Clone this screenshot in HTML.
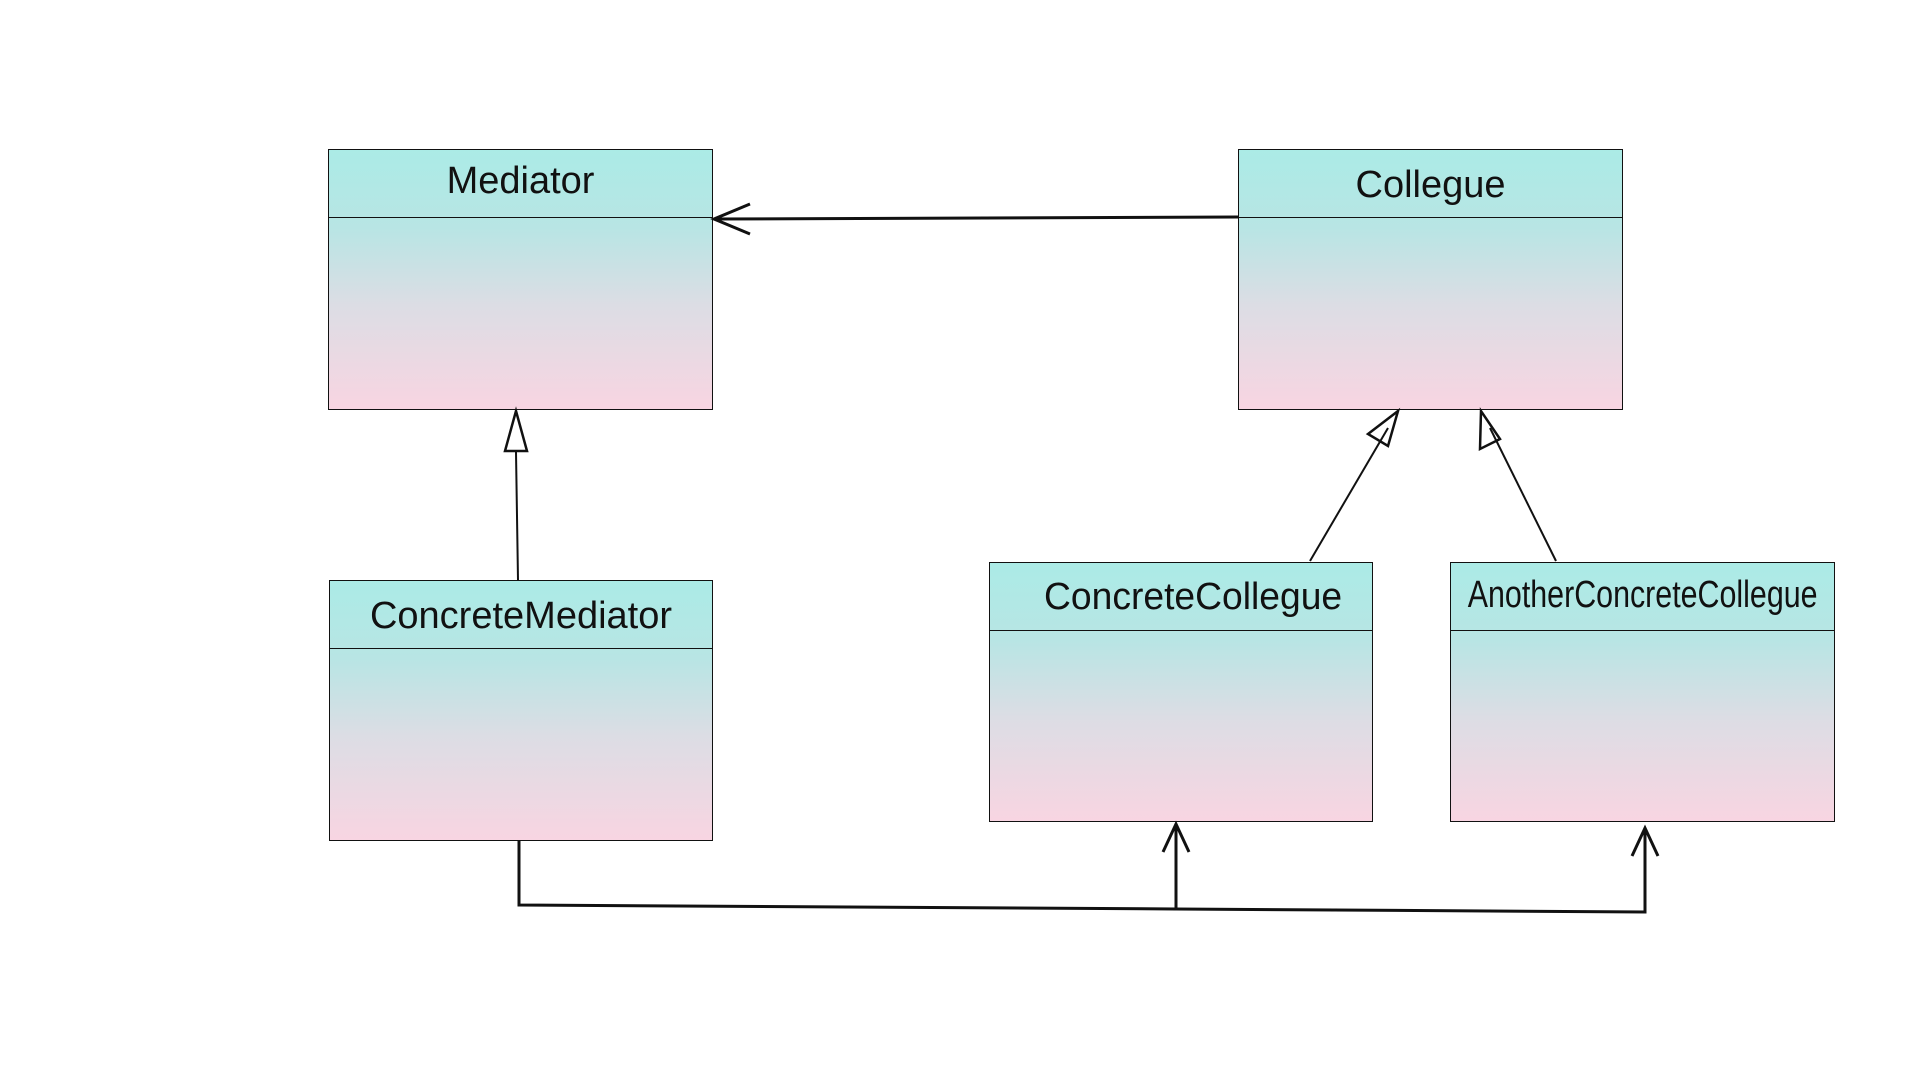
<!DOCTYPE html>
<html><head><meta charset="utf-8"><style>
html,body{margin:0;padding:0;background:#fff;}
body{width:1920px;height:1080px;position:relative;overflow:hidden;font-family:"Liberation Sans",sans-serif;}
.box{position:absolute;box-sizing:border-box;border:1.5px solid #111;background:linear-gradient(#abebe6 0%,#b8e5e4 30%,#dcdde4 60%,#f8d5e2 100%);}
.hd{position:absolute;left:0;right:0;top:0;border-bottom:1.5px solid #111;text-align:center;font-size:38px;color:#111;white-space:nowrap;}
.hd span{display:inline-block;}
svg{position:absolute;left:0;top:0;}
</style></head><body>
<div class="box" style="left:328px;top:149px;width:385px;height:261px;"><div class="hd" style="height:67px;line-height:62px;"><span>Mediator</span></div></div>
<div class="box" style="left:329px;top:580px;width:384px;height:261px;"><div class="hd" style="height:67px;line-height:70px;"><span>ConcreteMediator</span></div></div>
<div class="box" style="left:1238px;top:149px;width:385px;height:261px;"><div class="hd" style="height:67px;line-height:70px;"><span>Collegue</span></div></div>
<div class="box" style="left:989px;top:562px;width:384px;height:260px;"><div class="hd" style="height:67px;line-height:68px;"><span style="transform:scaleX(0.98);margin-left:24px">ConcreteCollegue</span></div></div>
<div class="box" style="left:1450px;top:562px;width:385px;height:260px;"><div class="hd" style="height:67px;line-height:64px;"><span style="transform:scaleX(0.8);margin-left:-60px;margin-right:-60px">AnotherConcreteCollegue</span></div></div>
<svg width="1920" height="1080" fill="none" stroke="#111" stroke-width="3">
<path d="M1238 217 L714 219"/><path d="M750 204 L714 219 L750 234"/>
<path d="M518 580 L516 452" stroke-width="2"/><path d="M516 411 L505 451 L527 451 Z" stroke-width="2.5"/>
<path d="M1310 561 L1388 428" stroke-width="2"/><path d="M1398 411 L1368 434 L1388 446 Z" stroke-width="2.5"/>
<path d="M1556 561 L1490 428" stroke-width="2"/><path d="M1481 411 L1480 449 L1500 439 Z" stroke-width="2.5"/>
<path d="M519 841 L519 905 L1176 909 L1645 912 L1645 828"/>
<path d="M1176 909 L1176 824"/>
<path d="M1163 852 L1176 824 L1189 852"/>
<path d="M1632 856 L1645 828 L1658 856"/>
</svg>
</body></html>
